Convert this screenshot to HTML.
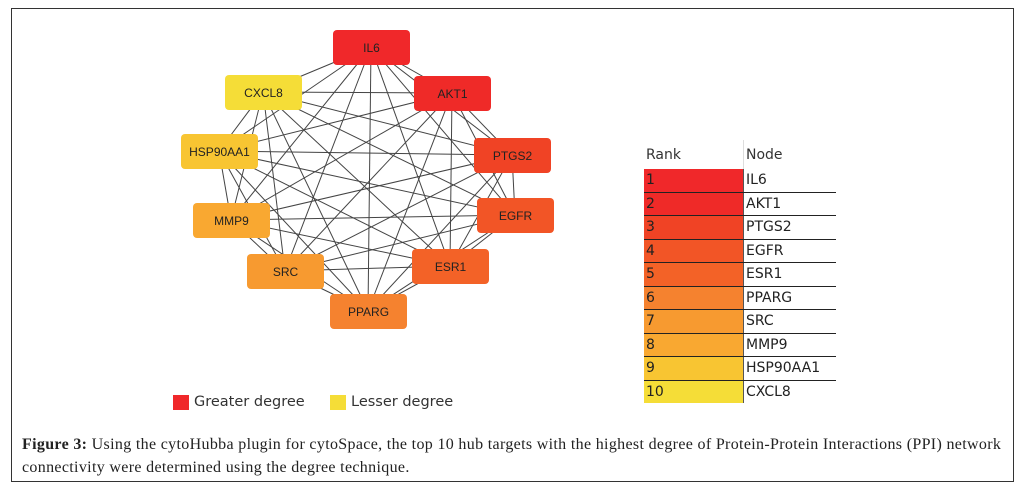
<!DOCTYPE html>
<html><head><meta charset="utf-8"><style>
body{margin:0;width:1023px;height:492px;background:#fff;position:relative;overflow:hidden;font-family:"Liberation Sans",sans-serif}
#frame{position:absolute;left:11px;top:8px;width:1003px;height:474px;border:1px solid #333;box-sizing:border-box}
.node{position:absolute;width:77px;height:35px;border-radius:4px;display:flex;align-items:center;justify-content:center;font-size:12px;color:#222}
table{position:absolute;left:644px;top:140px;border-collapse:collapse;font-family:"DejaVu Sans",sans-serif;font-size:14px;color:#222}
td{height:22.5px;padding:0 0 0 2px;border-bottom:1px solid #222;line-height:22px}
td.r{width:97px;border-right:1px solid #555}
td.n{width:90px}
tr.h td{border-bottom:none;height:29px;color:#333;background:#fff}
.leg{position:absolute;font-family:"DejaVu Sans",sans-serif;font-size:14.5px;color:#333;top:394px}
.sq{position:absolute;width:16px;height:15px;top:395px}
.cap{position:absolute;left:22px;top:433px;font-family:"Liberation Serif",serif;font-size:16px;letter-spacing:0.33px;line-height:23px;color:#222;width:995px;white-space:nowrap}
</style></head><body>
<div id="frame"></div>
<svg id="g" width="1023" height="492" style="position:absolute;left:0;top:0"></svg>
<div class="node" style="left:333px;top:30px;background:#f0282a">IL6</div>
<div class="node" style="left:225px;top:75px;background:#f5dd37">CXCL8</div>
<div class="node" style="left:414px;top:76px;background:#ef2a28">AKT1</div>
<div class="node" style="left:181px;top:134px;background:#f8c532">HSP90AA1</div>
<div class="node" style="left:474px;top:138px;background:#f04325">PTGS2</div>
<div class="node" style="left:193px;top:203px;background:#f9a831">MMP9</div>
<div class="node" style="left:477px;top:198px;background:#f25526">EGFR</div>
<div class="node" style="left:247px;top:254px;background:#f79a30">SRC</div>
<div class="node" style="left:412px;top:249px;background:#f36227">ESR1</div>
<div class="node" style="left:330px;top:294px;background:#f5822f">PPARG</div>
<table>
<tr class="h"><td class="r" style="border-right:1px solid #ddd">Rank</td><td class="n">Node</td></tr>
<tr><td class="r" style="background:#f0282a">1</td><td class="n">IL6</td></tr>
<tr><td class="r" style="background:#ef2a28">2</td><td class="n">AKT1</td></tr>
<tr><td class="r" style="background:#f04325">3</td><td class="n">PTGS2</td></tr>
<tr><td class="r" style="background:#f25526">4</td><td class="n">EGFR</td></tr>
<tr><td class="r" style="background:#f36227">5</td><td class="n">ESR1</td></tr>
<tr><td class="r" style="background:#f5822f">6</td><td class="n">PPARG</td></tr>
<tr><td class="r" style="background:#f79a30">7</td><td class="n">SRC</td></tr>
<tr><td class="r" style="background:#f9a831">8</td><td class="n">MMP9</td></tr>
<tr><td class="r" style="background:#f8c532">9</td><td class="n">HSP90AA1</td></tr>
<tr><td class="r" style="background:#f5dd37;border-bottom:none">10</td><td class="n" style="border-bottom:none">CXCL8</td></tr>
</table>
<div class="sq" style="left:173px;background:#f0282a"></div><div class="leg" style="left:194px">Greater degree</div>
<div class="sq" style="left:330px;background:#f5dd37"></div><div class="leg" style="left:351px">Lesser degree</div>
<div class="cap"><b>Figure 3:</b> Using the cytoHubba plugin for cytoSpace, the top 10 hub targets with the highest degree of Protein-Protein Interactions (PPI) network<br>connectivity were determined using the degree technique.</div>
<script>
var c=[[371,47],[263,92],[452,93],[219,151],[512,155],[231,220],[515,215],[285,271],[450,266],[368,311]];
var s='';for(var i=0;i<c.length;i++)for(var j=i+1;j<c.length;j++)s+='<line x1="'+c[i][0]+'" y1="'+c[i][1]+'" x2="'+c[j][0]+'" y2="'+c[j][1]+'" stroke="#444" stroke-width="1"/>';
document.getElementById('g').innerHTML=s;
</script>
</body></html>
